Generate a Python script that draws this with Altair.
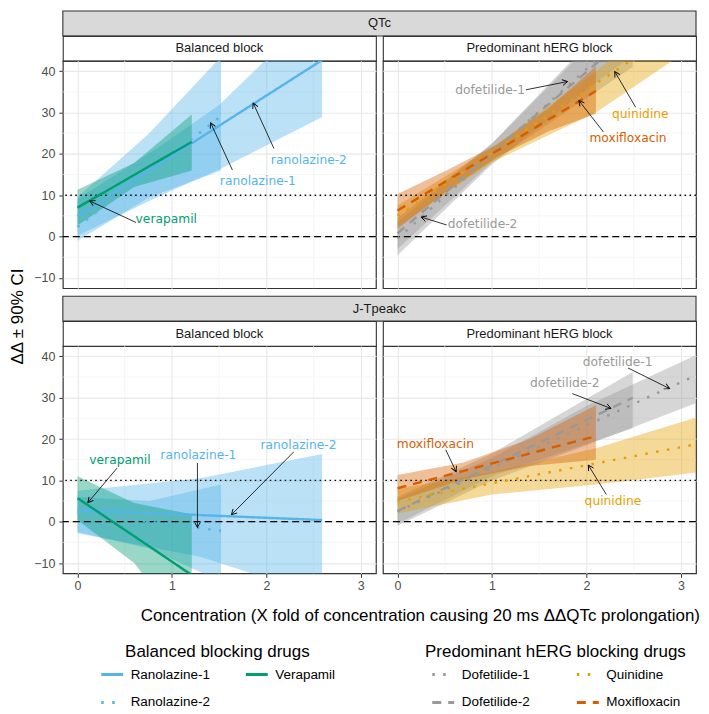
import math
import altair as alt
import pandas as pd

# ---------------- layout ----------------
W, H = 314, 228
GAP = 7
ROW_GAP = 8
STRIP_H = 25
LEGEND_H = 134
FONT = "Liberation Sans"
NOTE_FONT = "DejaVu Sans"
X_DOMAIN = [-0.155, 3.16]
Y_DOMAIN = [-12.5, 42.5]

X_TICKS = [0, 1, 2, 3]
X_MINOR = [0.5, 1.5, 2.5]
Y_TICKS = [-10, 0, 10, 20, 30, 40]
Y_MINOR = [-5, 5, 15, 25, 35]
REF_DASHED = [0]
REF_DOTTED = [10]

X_TITLE = "Concentration (X fold of concentration causing 20 ms \u0394\u0394QTc prolongation)"
Y_TITLE = "\u0394\u0394 \u00b1 90% CI"

BAL_DRUGS = ["Ranolazine-1", "Verapamil", "Ranolazine-2"]
BAL_COLORS = ["#56B4E9", "#009E73", "#56B4E9"]
BAL_DASHES = [[1, 0], [1, 0], [2.5, 8.5]]
HERG_DRUGS = ["Dofetilide-1", "Quinidine", "Dofetilide-2", "Moxifloxacin"]
HERG_COLORS = ["#999999", "#E69F00", "#999999", "#D55E00"]
HERG_DASHES = [[2.5, 8.5], [2.5, 8.5], [9, 7], [9, 7]]

# ---------------- data: (conc, fit, lower CI, upper CI) ----------------
QTC_RANOLAZINE_1 = [(0, 4.9, 0.2, 9.0), (0.87, 17.6, 9.8, 21.8), (1.5, 26.8, 16.2, 31.8), (2.59, 42.7, 28.9, 56.0)]
QTC_RANOLAZINE_2 = [(0, 2.3, -1.0, 9.5), (0.76, 15.7, 9.5, 25.0), (1.52, 29.1, 16.0, 43.5)]
QTC_VERAPAMIL = [(0, 7.0, 2.7, 11.3), (0.6, 14.9, 12.0, 17.8), (1.21, 22.9, 16.0, 29.5)]
QTC_DOFETILIDE_1 = [(0, -0.5, -4.5, 3.5), (1.0, 20.0, 17.5, 22.5), (2.0, 40.5, 35.5, 45.5), (3.15, 64.0, 55.0, 73.0)]
QTC_DOFETILIDE_2 = [(0, 0.8, -3.0, 4.5), (1.0, 20.3, 18.0, 22.5), (2.49, 49.4, 41.0, 58.0)]
QTC_QUINIDINE = [(0, 5.0, 2.5, 7.5), (1.0, 20.2, 18.0, 21.5), (2.1, 37.0, 30.0, 40.0), (3.2, 53.6, 47.0, 60.0)]
QTC_MOXIFLOXACIN = [(0, 6.3, 1.8, 10.3), (0.5, 13.2, 10.6, 15.8), (1.05, 20.7, 19.2, 22.2), (1.6, 28.3, 25.5, 31.1), (2.1, 35.2, 29.7, 41.2)]

JT_RANOLAZINE_1 = [(0, 2.8, -2.8, 7.5), (1.3, 1.6, -8.5, 10.5), (2.59, 0.4, -18.0, 16.4)]
JT_RANOLAZINE_2 = [(0, 2.2, -2.5, 6.0), (0.76, 0.0, -6.5, 5.0), (1.52, -2.2, -14.5, 9.0)]
JT_VERAPAMIL = [(0, 5.7, 0.4, 11.0), (0.6, -3.5, -10.0, 4.5), (1.21, -12.9, -28.0, 1.8)]
JT_DOFETILIDE_1 = [(0, 2.5, -1.0, 5.5), (1.0, 12.9, 10.0, 15.5), (2.0, 23.3, 18.5, 28.0), (3.15, 35.3, 28.6, 40.2)]
JT_DOFETILIDE_2 = [(0, 2.6, -0.5, 6.0), (1.0, 13.6, 11.0, 16.5), (2.49, 30.0, 22.6, 36.2)]
JT_QUINIDINE = [(0, 4.9, 2.0, 8.0), (1.0, 9.3, 6.6, 12.0), (2.1, 14.1, 9.0, 17.8), (3.2, 18.9, 12.0, 25.5)]
JT_MOXIFLOXACIN = [(0, 8.1, 5.0, 11.3), (0.7, 12.3, 10.3, 14.3), (1.4, 16.5, 13.5, 20.0), (2.1, 20.7, 15.0, 28.2)]

# annotations: (label, drug colour key, text x, text y, arrow x1, y1, arrow tip x2, y2)
QTC_BAL_NOTES = [
    ("verapamil", "Verapamil", 0.94, 4.15, 0.62, 3.4, 0.13, 8.6),
    ("ranolazine-1", "Ranolazine-2", 1.91, 13.5, 1.64, 16.1, 1.41, 27.5),
    ("ranolazine-2", "Ranolazine-1", 2.45, 18.5, 2.08, 21.3, 1.86, 32.3),
]
QTC_HERG_NOTES = [
    ("dofetilide-1", "Dofetilide-1", 0.98, 35.5, 1.36, 35.5, 1.80, 37.5),
    ("dofetilide-2", "Dofetilide-2", 0.90, 3.1, 0.52, 2.8, 0.25, 4.7),
    ("quinidine", "Quinidine", 2.57, 29.6, 2.52, 31.3, 2.30, 39.9),
    ("moxifloxacin", "Moxifloxacin", 2.44, 23.9, 2.18, 25.3, 1.92, 32.9),
]
JT_BAL_NOTES = [
    ("verapamil", "Verapamil", 0.45, 15.0, 0.42, 13.0, 0.11, 4.6),
    ("ranolazine-1", "Ranolazine-2", 1.28, 16.1, 1.27, 14.2, 1.27, -1.4),
    ("ranolazine-2", "Ranolazine-1", 2.34, 18.6, 2.29, 16.9, 1.63, 1.7),
]
JT_HERG_NOTES = [
    ("dofetilide-1", "Dofetilide-1", 2.33, 38.6, 2.44, 37.2, 2.88, 32.2),
    ("dofetilide-2", "Dofetilide-2", 1.77, 33.6, 1.85, 31.0, 2.26, 27.4),
    ("moxifloxacin", "Moxifloxacin", 0.40, 18.8, 0.51, 17.4, 0.62, 12.1),
    ("quinidine", "Quinidine", 2.28, 4.9, 2.21, 6.6, 2.02, 13.7),
]

GRID = "#E8E8E8"
MINOR_GRID = "#F2F2F2"
BORDER = "#333333"
ARROW_PATH = "M -0.55 1 L 0 0 L 0.55 1"
SX = W / (X_DOMAIN[1] - X_DOMAIN[0])
SY = H / (Y_DOMAIN[1] - Y_DOMAIN[0])
RES = dict(color="independent", strokeDash="independent", fill="independent")
NO_VIEW = alt.ViewBackground(fill="transparent", stroke="transparent")


def series_frame(pairs):
    rows = []
    for drug, pts in pairs:
        for c, f, lo, hi in pts:
            rows.append(dict(drug=drug, conc=c, fit=f, lo=lo, hi=hi))
    return pd.DataFrame(rows)


def notes_frame(notes):
    rows = []
    for label, drug, tx, ty, x1, y1, x2, y2 in notes:
        dx = (x2 - x1) * SX
        dy = -(y2 - y1) * SY
        ang = math.degrees(math.atan2(dx, -dy)) % 360
        rows.append(dict(label=label, drug=drug, tx=tx, ty=ty, x1=x1, y1=y1,
                         x2=x2, y2=y2, angle=ang))
    return pd.DataFrame(rows)


def group_style(group):
    if group == "bal":
        return BAL_DRUGS, BAL_COLORS, BAL_DASHES, "Balanced blocking drugs"
    return HERG_DRUGS, HERG_COLORS, HERG_DASHES, "Predominant hERG blocking drugs"


def make_panel(series, notes, group, show_x, show_y, x_title=False, y_title=False):
    dom, cols, dashes, _ = group_style(group)
    xs = alt.Scale(domain=X_DOMAIN, nice=False, zero=False)
    ys = alt.Scale(domain=Y_DOMAIN, nice=False, zero=False)

    xax = dict(values=X_TICKS, grid=True, gridColor=GRID, gridWidth=1.1, domain=False,
               labels=show_x, ticks=show_x, title=None)
    if show_x:
        xax.update(tickColor=BORDER, tickSize=4, labelColor="#4D4D4D", labelFont=FONT,
                   labelFontSize=12.5, labelPadding=2)
    if x_title:
        xax.update(title=X_TITLE, titleFont=FONT, titleFontSize=17, titleFontWeight="normal",
                   titleColor="black", titleX=358, titleY=42, titleAlign="center",
                   titleBaseline="middle")
    yax = dict(values=Y_TICKS, grid=True, gridColor=GRID, gridWidth=1.1, domain=False,
               labels=show_y, ticks=show_y, title=None)
    if show_y:
        yax.update(tickColor=BORDER, tickSize=4, labelColor="#4D4D4D", labelFont=FONT,
                   labelFontSize=12.5, labelPadding=4)
    if y_title:
        yax.update(title=Y_TITLE, titleFont=FONT, titleFontSize=17, titleFontWeight="normal",
                   titleColor="black", titleX=-36, titleY=256, titleAngle=270,
                   titleAlign="center", titleBaseline="bottom")
    xaxis = alt.Axis(**xax)
    yaxis = alt.Axis(**yax)

    df = series_frame(series)
    nf = notes_frame(notes)
    fill_scale = alt.Scale(domain=dom, range=cols)

    minor_x = alt.Chart(pd.DataFrame({"v": X_MINOR})).mark_rule(
        color=MINOR_GRID, strokeWidth=0.7).encode(x=alt.X("v:Q", scale=xs, axis=xaxis))
    minor_y = alt.Chart(pd.DataFrame({"v": Y_MINOR})).mark_rule(
        color=MINOR_GRID, strokeWidth=0.7).encode(y=alt.Y("v:Q", scale=ys, axis=yaxis))
    bands = alt.Chart(df).mark_area(fillOpacity=0.4, clip=True).encode(
        x=alt.X("conc:Q", scale=xs, axis=xaxis),
        y=alt.Y("lo:Q", scale=ys, axis=yaxis, stack=False),
        y2="hi:Q",
        fill=alt.Fill("drug:N", scale=fill_scale, legend=None),
        detail="drug:N",
    )
    ref0 = alt.Chart(pd.DataFrame({"v": REF_DASHED})).mark_rule(
        color="black", strokeWidth=1.3, strokeDash=[7, 4]).encode(
        y=alt.Y("v:Q", scale=ys, axis=yaxis))
    ref10 = alt.Chart(pd.DataFrame({"v": REF_DOTTED})).mark_rule(
        color="black", strokeWidth=1.4, strokeDash=[1.5, 3.5]).encode(
        y=alt.Y("v:Q", scale=ys, axis=yaxis))
    lines = alt.Chart(df).mark_line(strokeWidth=2.4, strokeCap="butt", clip=True).encode(
        x=alt.X("conc:Q", scale=xs, axis=xaxis),
        y=alt.Y("fit:Q", scale=ys, axis=yaxis),
        color=alt.Color("drug:N", scale=alt.Scale(domain=dom, range=cols), legend=None),
        strokeDash=alt.StrokeDash("drug:N", scale=alt.Scale(domain=dom, range=dashes), legend=None),
    )
    arrows = alt.Chart(nf).mark_rule(color="black", strokeWidth=0.8).encode(
        x=alt.X("x1:Q", scale=xs, axis=xaxis), y=alt.Y("y1:Q", scale=ys, axis=yaxis),
        x2="x2:Q", y2="y2:Q")
    heads = alt.Chart(nf).mark_point(shape=ARROW_PATH, filled=False, color="black",
                                     strokeWidth=0.9, size=110, opacity=1).encode(
        x=alt.X("x2:Q", scale=xs, axis=xaxis), y=alt.Y("y2:Q", scale=ys, axis=yaxis),
        angle=alt.Angle("angle:Q", scale=None))
    texts = alt.Chart(nf).mark_text(font=NOTE_FONT, fontSize=12.3, align="center",
                                    baseline="middle").encode(
        x=alt.X("tx:Q", scale=xs, axis=xaxis), y=alt.Y("ty:Q", scale=ys, axis=yaxis),
        text="label:N",
        fill=alt.Fill("drug:N", scale=fill_scale, legend=None))

    return alt.layer(minor_x, minor_y, bands, ref0, ref10, lines, arrows, heads, texts).properties(
        width=W, height=H)


def legend_cell(series, group, lx, ly, col_pad):
    """A cell that only shows the legend of the group's line styles (lines fall outside its view)."""
    dom, cols, dashes, title = group_style(group)
    leg = alt.Legend(title=title, orient="none", legendX=lx, legendY=ly, direction="horizontal",
                     columns=2, values=dom, symbolType="stroke", symbolSize=484,
                     symbolStrokeWidth=3, labelFont=FONT, labelFontSize=13.5,
                     labelColor="black", labelLimit=300, titleFont=FONT, titleFontSize=17,
                     titleFontWeight="normal", titleColor="black", titleAnchor="middle",
                     titleAlign="center", titleLimit=400, titlePadding=1,
                     columnPadding=col_pad, rowPadding=9, labelOffset=6)
    df = series_frame(series)
    return alt.Chart(df).mark_line(strokeWidth=2.4, strokeCap="butt", clip=True).encode(
        x=alt.X("conc:Q", scale=alt.Scale(domain=[10, 11]), axis=None),
        y=alt.Y("fit:Q", scale=alt.Scale(domain=Y_DOMAIN), axis=None),
        color=alt.Color("drug:N", scale=alt.Scale(domain=dom, range=cols), legend=leg),
        strokeDash=alt.StrokeDash("drug:N", scale=alt.Scale(domain=dom, range=dashes), legend=leg),
    ).properties(width=W, height=LEGEND_H, view=NO_VIEW)


def white_strip(text):
    return alt.Chart(pd.DataFrame({"t": [text]})).mark_text(
        font=FONT, fontSize=13, color="#1A1A1A", baseline="middle", align="center").encode(
        x=alt.value(W / 2), y=alt.value(STRIP_H / 2), text="t:N").properties(
        width=W, height=STRIP_H,
        view=alt.ViewBackground(fill="white", stroke=BORDER, strokeWidth=1.1))


def gray_strip(text, top, draw):
    """Full-width grey strip drawn from the left cell (overflows into the right cell)."""
    full = 2 * W + GAP
    d = pd.DataFrame({"t": [text]})
    if not draw:
        # placeholder cell: an invisible rect kept inside the cell
        return alt.Chart(d).mark_rect(opacity=0).encode(
            x=alt.value(0), x2=alt.value(1), y=alt.value(top + 1), y2=alt.value(top + 2)).properties(
            width=W, height=STRIP_H + top, view=NO_VIEW)
    rect = alt.Chart(d).mark_rect(fill="#D9D9D9", stroke=BORDER, strokeWidth=1.1).encode(
        x=alt.value(0), x2=alt.value(full), y=alt.value(top), y2=alt.value(top + STRIP_H))
    txt = alt.Chart(d).mark_text(font=FONT, fontSize=13, color="#1A1A1A",
                                 baseline="middle", align="center").encode(
        x=alt.value(full / 2), y=alt.value(top + STRIP_H / 2), text="t:N")
    return alt.layer(rect, txt).properties(width=W, height=STRIP_H + top, view=NO_VIEW)


BAL_JT = [("Ranolazine-1", JT_RANOLAZINE_1), ("Ranolazine-2", JT_RANOLAZINE_2),
          ("Verapamil", JT_VERAPAMIL)]
HERG_JT = [("Dofetilide-1", JT_DOFETILIDE_1), ("Dofetilide-2", JT_DOFETILIDE_2),
           ("Quinidine", JT_QUINIDINE), ("Moxifloxacin", JT_MOXIFLOXACIN)]

p_tl = make_panel([("Ranolazine-1", QTC_RANOLAZINE_1), ("Ranolazine-2", QTC_RANOLAZINE_2),
                   ("Verapamil", QTC_VERAPAMIL)], QTC_BAL_NOTES, "bal", False, True, y_title=True)
p_tr = make_panel([("Dofetilide-1", QTC_DOFETILIDE_1), ("Dofetilide-2", QTC_DOFETILIDE_2),
                   ("Quinidine", QTC_QUINIDINE), ("Moxifloxacin", QTC_MOXIFLOXACIN)],
                  QTC_HERG_NOTES, "herg", False, False)
p_bl = make_panel(BAL_JT, JT_BAL_NOTES, "bal", True, True, x_title=True)
p_br = make_panel(HERG_JT, JT_HERG_NOTES, "herg", True, False)

cells = [
    gray_strip("QTc", 0, True), gray_strip("QTc", 0, False),
    white_strip("Balanced block"), white_strip("Predominant hERG block"),
    p_tl, p_tr,
    gray_strip("J-Tpeakc", ROW_GAP, True), gray_strip("J-Tpeakc", ROW_GAP, False),
    white_strip("Balanced block"), white_strip("Predominant hERG block"),
    p_bl, p_br,
    legend_cell(BAL_JT, "bal", 37, 71, 29), legend_cell(HERG_JT, "herg", 42, 71, 40),
]

chart = alt.concat(*cells, columns=2, spacing=alt.RowColnumber(row=0, column=GAP),
                   bounds="flush").resolve_scale(**RES).properties(
    padding=0).configure_view(stroke=BORDER, strokeWidth=1.2)

chart.save("out.html", embed_options={"renderer": "svg", "actions": False})
